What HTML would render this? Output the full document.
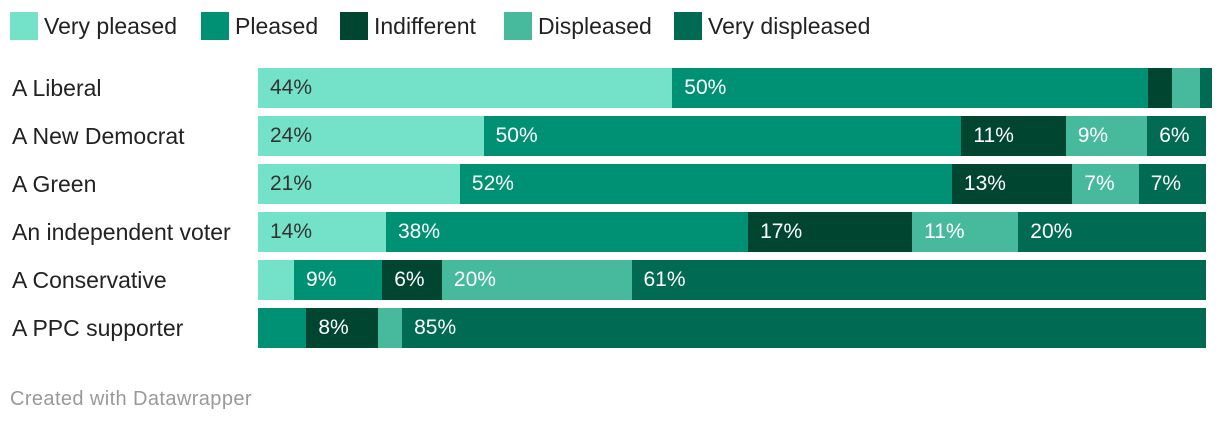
<!DOCTYPE html>
<html><head><meta charset="utf-8"><style>
body{margin:0;width:1220px;height:426px;background:#fff;font-family:"Liberation Sans",Arial,sans-serif;overflow:hidden;position:relative}
.li{position:absolute;top:12px;display:flex;align-items:center;font-size:23px;color:#222;white-space:nowrap}
.sw{width:28px;height:28px;margin-right:6px}
.lab{position:absolute;left:12px;font-size:23px;color:#222;line-height:40px}
.foot{position:absolute;left:10px;top:388px;font-size:20px;color:#999;letter-spacing:0.4px}
</style></head><body>
<div id="legend"></div>
<div id="chart"></div>
<div class="foot">Created with Datawrapper</div>
<script>
const categories=["A Liberal","A New Democrat","A Green","An independent voter","A Conservative","A PPC supporter"];
const seriesNames=["Very pleased","Pleased","Indifferent","Displeased","Very displeased"];
const veryPleased=[43.7,23.8,21.3,13.5,3.8,0];
const pleased=[50.2,50.4,51.9,38.2,9.3,5.1];
const indifferent=[2.5,11.0,12.7,17.3,6.3,7.6];
const displeased=[3.0,8.6,7.0,11.2,20.0,2.5];
const veryDispleased=[0.6,6.2,7.1,19.8,60.6,84.8];
const colors=["#74e2c8","#009174","#004530","#47b99c","#006a52"];
const series=[veryPleased,pleased,indifferent,displeased,veryDispleased];
const legendX=[10,201,340,504,674];
const X0=258,W=948,Y0=68,RH=40,STEP=48;
const leg=document.getElementById('legend');
seriesNames.forEach((n,i)=>{
 const d=document.createElement('div');d.className='li';
 
 
 d.style.left=legendX[i]+'px';
 d.innerHTML='<div class="sw" style="background:'+colors[i]+'"></div>'+n;leg.appendChild(d);});
const ch=document.getElementById('chart');
categories.forEach((c,r)=>{
 const y=Y0+r*STEP;
 const l=document.createElement('div');l.className='lab';l.style.top=y+'px';l.textContent=c;
 
 
 ch.appendChild(l);
 let total=0;series.forEach(s=>total+=s[r]);
 const xs=v=>v/total*W;
 let acc=0;
 series.forEach((s,i)=>{
  const v=s[r];if(v<=0)return;
  const b=document.createElement('div');
  
  
  b.style.cssText='position:absolute;top:'+y+'px;height:'+RH+'px;left:'+(X0+xs(acc))+'px;width:'+(xs(v)+0.5)+'px;background:'+colors[i]+';font-size:21px;line-height:40px;box-sizing:border-box;padding-left:12px;white-space:nowrap;overflow:hidden;color:'+(i==0?'#333':'#fff');
  if(v>=5.5)b.textContent=Math.round(v)+'%';
  ch.appendChild(b);acc+=v;});
});
</script></body></html>
